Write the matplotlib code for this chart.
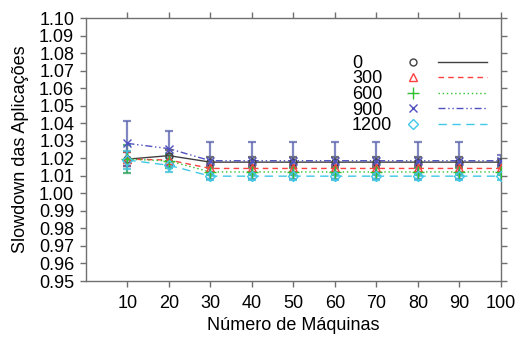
import matplotlib
matplotlib.use("Agg")
import matplotlib.pyplot as plt
from matplotlib.lines import Line2D
from matplotlib.legend_handler import HandlerTuple

plt.rcParams["font.family"] = ["Liberation Sans", "DejaVu Sans"]

machines = [10, 20, 30, 40, 50, 60, 70, 80, 90, 100]
labels = ["0", "300", "600", "900", "1200"]

slow_0 = [1.0195, 1.0215, 1.0178, 1.0178, 1.0178, 1.0178, 1.0178, 1.0178, 1.0178, 1.0178]
slow_300 = [1.0195, 1.0190, 1.0142, 1.0142, 1.0142, 1.0142, 1.0142, 1.0142, 1.0142, 1.0142]
slow_600 = [1.0195, 1.0185, 1.0122, 1.0122, 1.0122, 1.0122, 1.0122, 1.0122, 1.0122, 1.0122]
slow_900 = [1.0285, 1.0255, 1.0186, 1.0186, 1.0186, 1.0186, 1.0186, 1.0186, 1.0186, 1.0186]
slow_1200 = [1.0190, 1.0160, 1.0098, 1.0098, 1.0098, 1.0098, 1.0098, 1.0098, 1.0098, 1.0098]

err_0 = [0.004, 0.003, 0.003, 0.003, 0.003, 0.003, 0.003, 0.003, 0.003, 0.002]
err_300 = [0.004, 0.003, 0.002, 0.002, 0.002, 0.002, 0.002, 0.002, 0.002, 0.002]
err_600 = [0.008, 0.004, 0.002, 0.002, 0.002, 0.002, 0.002, 0.002, 0.002, 0.002]
err_900 = [0.013, 0.010, 0.0105, 0.0105, 0.0105, 0.0105, 0.0105, 0.0105, 0.0105, 0.003]
err_1200 = [0.005, 0.004, 0.002, 0.002, 0.002, 0.002, 0.002, 0.002, 0.002, 0.002]

series = [slow_0, slow_300, slow_600, slow_900, slow_1200]
errors = [err_0, err_300, err_600, err_900, err_1200]
colors = ["#404040", "#ff4040", "#30c030", "#5050c0", "#40c8e8"]
markers = ["o", "^", "+", "x", "D"]
msizes = [5, 6, 8, 6, 5]
styles = ["-", (0, (4, 3)), (0, (1, 2)), (0, (5, 2, 1, 2, 1, 2)), (0, (6, 4))]
err_colors = ["#505050", "#d04040", "#30a060", "#6068b0", "#40c0d8"]

fig = plt.figure(figsize=(5.17, 3.40), dpi=100)
ax = fig.add_axes([0.1663, 0.1735, 0.8027, 0.7735])

handles = []
for y, e, c, m, ms, ls, ec in zip(series, errors, colors, markers, msizes, styles, err_colors):
    ax.errorbar(machines, y, yerr=e, fmt="none", ecolor=ec, elinewidth=1.6,
                capsize=3, capthick=1.6, alpha=0.8, zorder=2)
    ax.plot(machines, y, color=c, linestyle=ls, linewidth=1.0, zorder=3)
    ax.plot(machines, y, linestyle="none", marker=m, markersize=ms,
            markerfacecolor="none", markeredgecolor=c, markeredgewidth=1.0, zorder=4)
    h_mark = Line2D([], [], linestyle="none", marker=m, markersize=ms,
                    markerfacecolor="none", markeredgecolor=c, markeredgewidth=1.0)
    h_line = Line2D([], [], color=c, linestyle=ls, linewidth=1.0)
    handles.append((h_mark, h_line))

ax.set_xlim(0, 100)
ax.set_ylim(0.95, 1.10)
ax.set_xticks(machines)
ax.set_yticks([0.95 + 0.01 * i for i in range(16)])
ax.set_yticklabels([f"{0.95 + 0.01 * i:.2f}" for i in range(16)])

for s in ax.spines.values():
    s.set_color("#707070")
    s.set_linewidth(1.0)
ax.tick_params(direction="out", length=4, width=1.0, color="#707070",
               labelsize=13, top=True, right=True)
ax.tick_params(axis="y", pad=4.5)
ax.tick_params(axis="x", pad=6)

ax.set_xlabel("Número de Máquinas", fontsize=13, labelpad=4)
ax.set_ylabel("Slowdown das Aplicações", fontsize=13, labelpad=7)

# gnuplot-style key: text column on the left, then marker, then line sample
blank = [Line2D([], [], linestyle="none") for _ in labels]
leg_text = ax.legend(blank, labels, frameon=False, fontsize=13, handlelength=0,
                     handletextpad=0, labelspacing=-0.08, borderpad=0,
                     loc="upper left", bbox_to_anchor=(0.641, 0.86), borderaxespad=0)
ax.add_artist(leg_text)
ax.legend(handles, [" "] * len(labels),
          handler_map={tuple: HandlerTuple(ndivide=None, pad=0)},
          frameon=False, fontsize=13, handlelength=5.44, handletextpad=0,
          labelspacing=-0.08, borderpad=0, loc="upper left",
          bbox_to_anchor=(0.729, 0.86), borderaxespad=0)

fig.savefig("out.png", dpi=100)
